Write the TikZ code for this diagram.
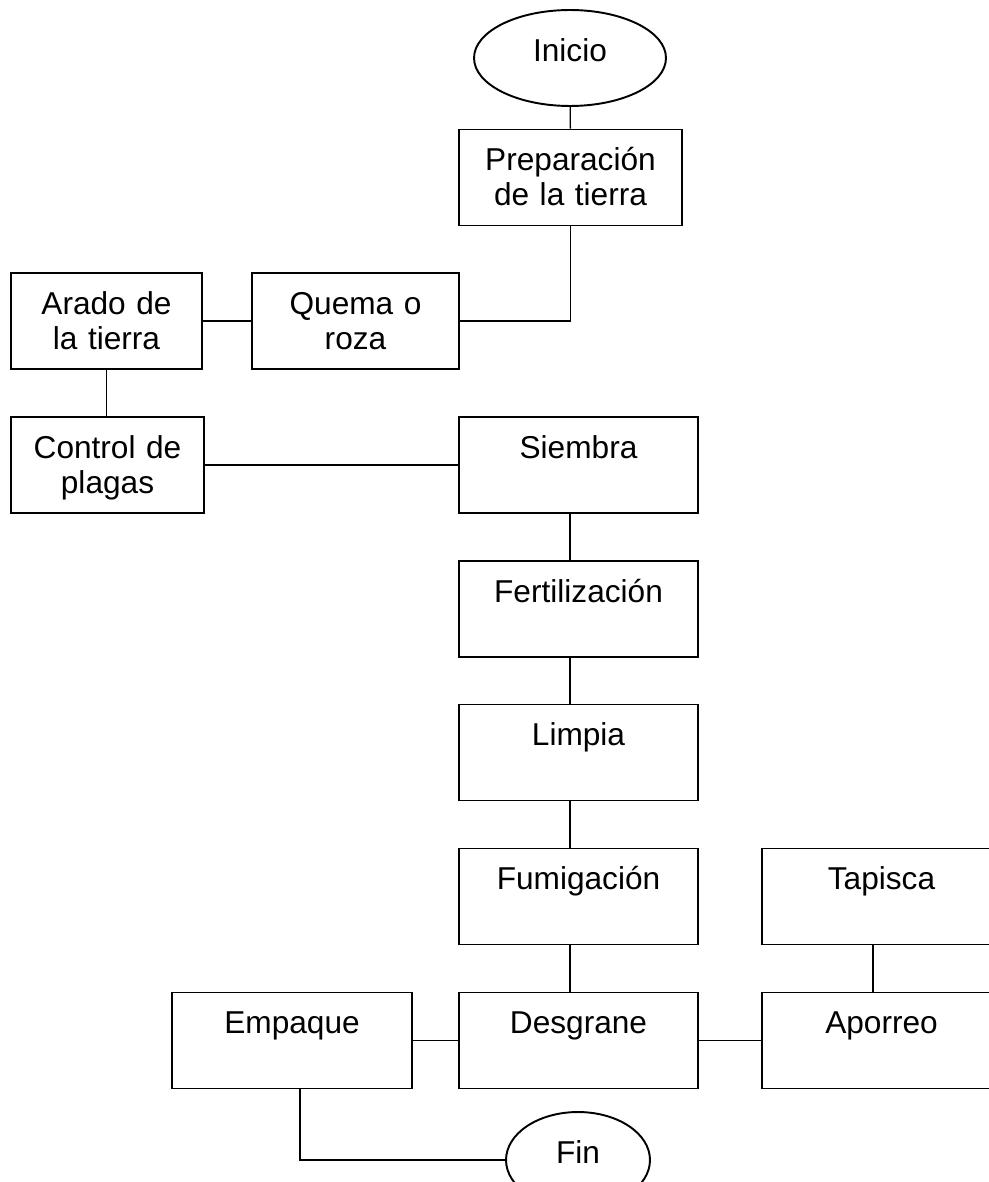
\documentclass[tikz,border=0pt]{standalone}
\usepackage{fontspec}
\setmainfont{Liberation Sans}
\usetikzlibrary{shapes.geometric}
\tikzset{
  caja/.style={draw, line width=1.1pt, rectangle, inner sep=0pt, align=center,
    text width=#1, minimum width=#1, minimum height=1.92cm,
    text height=0.82cm, text depth=1.1cm},
  extremo/.style={draw, line width=1.1pt, ellipse, inner sep=0pt,
    minimum height=1.92cm, text depth=0.3cm},
  enlace/.style={line width=0.8pt}
}
\begin{document}
\begin{tikzpicture}[x=0.02cm, y=-0.02cm, font=\fontsize{18}{20}\selectfont]
			\useasboundingbox (0,0) rectangle (988,1182);
			\node[extremo, minimum width=3.84cm] (inicio) at (570,58) {Inicio};
			\node[caja=4.46cm] (prep) at (570.5,177.5) {Preparación\\de la tierra};
			\node[caja=4.14cm] (quema) at (355.5,321) {Quema o\\roza};
			\node[caja=3.82cm] (arado) at (106.5,321) {Arado de\\la tierra};
			\node[caja=3.86cm] (control) at (107.5,465) {Control de\\plagas};
			\node[caja=4.78cm] (siembra) at (578.5,465) {Siembra};
			\node[caja=4.78cm] (fert) at (578.5,609) {Fertilización};
			\node[caja=4.78cm] (limpia) at (578.5,752.5) {Limpia};
			\node[caja=4.78cm] (fumig) at (578.5,896.5) {Fumigación};
			\node[caja=4.78cm] (tapisca) at (881.5,896.5) {Tapisca};
			\node[caja=4.8cm] (empaque) at (292,1040.5) {Empaque};
			\node[caja=4.78cm] (desgrane) at (578.5,1040.5) {Desgrane};
			\node[caja=4.78cm] (aporreo) at (881.5,1040.5) {Aporreo};
			\node[extremo, minimum width=2.88cm] (fin) at (578,1160) {Fin};

			\draw[enlace] (inicio) -- (prep);
			\draw[enlace] (prep.south) |- (quema.east);
			\draw[enlace] (quema.west) -- (arado.east);
			\draw[enlace] (arado.south) -- (control.north -| arado.south);
			\draw[enlace] (control.east) -- (siembra.west);
			\draw[enlace] (siembra.south -| inicio) -- (fert.north -| inicio);
			\draw[enlace] (fert.south -| inicio) -- (limpia.north -| inicio);
			\draw[enlace] (limpia.south -| inicio) -- (fumig.north -| inicio);
			\draw[enlace] (fumig.south -| inicio) -- (desgrane.north -| inicio);
			\draw[enlace] ([xshift=-0.17cm]tapisca.south) -- ([xshift=-0.17cm]aporreo.north);
			\draw[enlace] (desgrane.east) -- (aporreo.west);
			\draw[enlace] (desgrane.west) -- (empaque.east);
			\draw[enlace] ([xshift=0.16cm]empaque.south) |- (fin.west);
		\end{tikzpicture}
\end{document}
